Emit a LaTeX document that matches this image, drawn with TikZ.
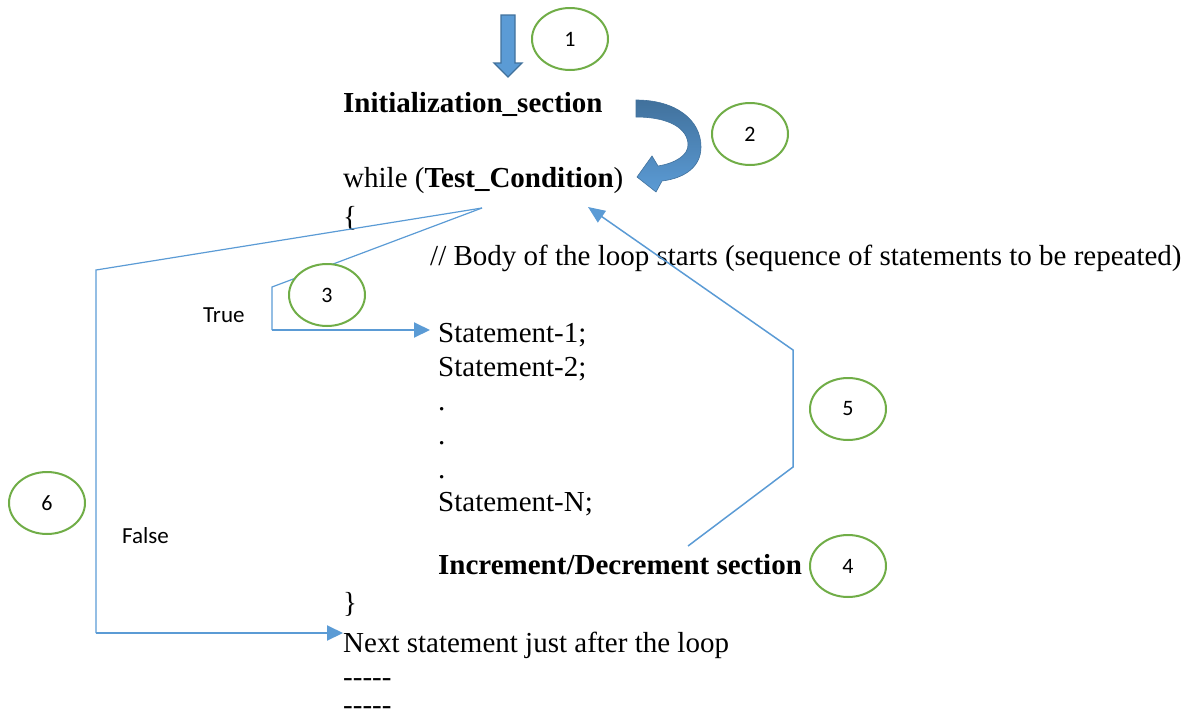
\documentclass[tikz,border=0pt]{standalone}
\usepackage{fontspec}
\setmainfont{Liberation Serif}
\newfontfamily\labfont{Carlito}
\usetikzlibrary{arrows.meta,shapes.geometric}
\definecolor{lblue}{HTML}{5B9BD5}
\definecolor{dblue}{HTML}{41719C}
\definecolor{lgreen}{HTML}{70AD47}
\tikzset{
  code/.style={anchor=base west,inner sep=0pt,font=\fontsize{29}{34}\selectfont},
  lab/.style={anchor=base west,inner sep=0pt,font=\labfont\fontsize{23}{27}\selectfont},
  num/.style={ellipse,draw=lgreen,line width=2pt,fill=white,minimum width=76pt,minimum height=62pt,inner sep=0pt,font=\labfont\fontsize{22}{26}\selectfont},
  thinline/.style={draw=lblue,line width=1.2pt},
  arr/.style={draw=lblue,line width=2pt,-{Triangle[length=16pt,width=15pt]},color=lblue},
  backarr/.style={draw=lblue,line width=1.5pt,-{Triangle[length=17pt,width=14pt]},color=lblue},
}
\begin{document}
\begin{tikzpicture}[x=1pt,y=-1pt]
\useasboundingbox (0,0) rectangle (1194,715);
% block arrow down
\draw[fill=lblue,draw=dblue,line width=1.3pt] (501,15) -- (515,15) -- (515,63) -- (522,63) -- (508,77) -- (494,63) -- (501,63) -- cycle;
% curved arrow
\shade[top color=dblue,bottom color=lblue,draw=dblue,line width=0.6pt]
 (636,100) .. controls (676,100) and (701,120) .. (701,147)
 .. controls (701,166) and (686,178) .. (662,181) -- (656,192) -- (637,177) -- (652,156) -- (658,166)
 .. controls (676,163) and (688,155) .. (688,145)
 .. controls (688,129) and (670,117) .. (636,117) -- cycle;
% texts
\node[code] (init) at (343,112) {\textbf{Initialization\_section}};
\node[code] (cond) at (343,187) {while (\textbf{Test\_Condition})};
\node[code] (open) at (343,226) {\{};
\node[code] (body) at (430,265) {// Body of the loop starts (sequence of statements to be repeated)};
\node[code] (s1) at (438,342) {Statement-1;};
\node[code] (s2) at (438,376) {Statement-2;};
\node[code] (d1) at (438,410) {.};
\node[code] (d2) at (438,444) {.};
\node[code] (d3) at (438,478) {.};
\node[code] (sn) at (438,511) {Statement-N;};
\node[code] (incr) at (438,574) {\textbf{Increment/Decrement section}};
\node[code] (close) at (343,612) {\}};
\node[code] (next) at (343,652) {Next statement just after the loop};
\node[code] (dash1) at (343,686) {-{}-{}-{}-{}-};
\node[code] (dash2) at (343,714) {-{}-{}-{}-{}-};
\node[lab] (true) at (203,322) {True};
\node[lab] (false) at (122,543) {False};
% connector coordinates
\coordinate (tc) at (482,208);
\coordinate (f1) at (96,270);
\coordinate (f2) at (96,633);
\coordinate (t1) at (272,287);
\coordinate (t2) at (272,330);
\coordinate (t3) at (430,330);
\coordinate (b0) at (688,546);
\coordinate (b1) at (793,467);
\coordinate (b2) at (793,350);
\coordinate (b3) at (588,207);
% false path
\draw[thinline] (tc) -- (f1) -- (f2);
\draw[arr] (f2) -- (f2 -| next.west);
% true path
\draw[thinline] (tc) -- (t1) -- (t2);
\node[num] (n3) at (327,295) {3};
\draw[arr] (t2) -- (t3);
% back path
\draw[backarr] (b0) -- (b1) -- (b2) -- (b3);
% numbered ellipses
\node[num] (n1) at (570,39) {1};
\node[num] (n2) at (750,134) {2};
\node[num] (n4) at (848,566) {4};
\node[num] (n5) at (848,409) {5};
\node[num] (n6) at (47,503) {6};
\end{tikzpicture}
\end{document}
